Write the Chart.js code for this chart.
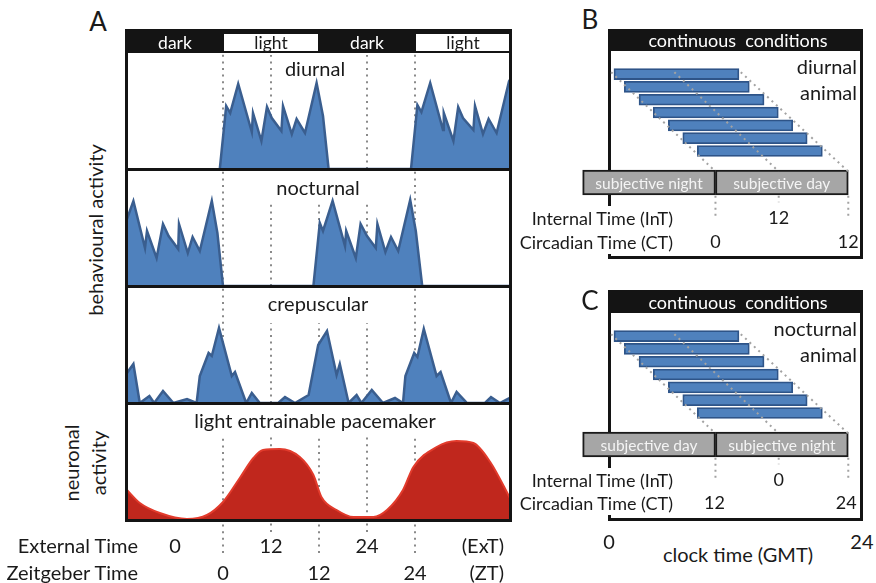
<!DOCTYPE html>
<html>
<head>
<meta charset="utf-8">
<title>Behavioural and neuronal activity</title>
<script src="https://cdn.jsdelivr.net/npm/chart.js@4.4.1/dist/chart.umd.min.js"></script>
<style>
  body { margin: 0; background: #fff; font-family: Lato, 'Open Sans', sans-serif; color: #1a1a1a; }
  #fig { position: relative; width: 876px; height: 583px; overflow: hidden; }
  canvas { position: absolute; z-index: 1; }
  .frame { position: absolute; box-sizing: border-box; border: 3px solid #141414; }
  .top { z-index: 2; }
  .low { z-index: 0; }
  .blk { position: absolute; background: #141414; z-index: 2; }
  .txt { position: absolute; white-space: pre; z-index: 3; line-height: 1.2; text-align: center; }
</style>
</head>
<body>
<div id="fig">
  <!-- panel A frame -->
  <div class="frame top" style="left:125px;top:29px;width:387px;height:493px"></div>
  <div class="blk" style="left:125px;top:29px;width:387px;height:24px"></div>
  <div class="blk" style="left:125px;top:168px;width:387px;height:3px"></div>
  <div class="blk" style="left:125px;top:285px;width:387px;height:3px"></div>
  <div class="blk" style="left:125px;top:402px;width:387px;height:3px"></div>
  <canvas id="diurnal" width="384" height="116" style="left:127px;top:53px"></canvas>
  <canvas id="nocturnal" width="384" height="115" style="left:127px;top:171px"></canvas>
  <canvas id="crepuscular" width="384" height="115" style="left:127px;top:288px"></canvas>
  <canvas id="pacemaker" width="384" height="155" style="left:127px;top:405px"></canvas>

  <!-- panels B and C -->
  <div class="frame low" style="left:608px;top:29px;width:255px;height:230px"></div>
  <div class="blk" style="left:608px;top:29px;width:255px;height:22px"></div>
  <canvas id="freeB" width="306" height="207" style="left:570px;top:51px"></canvas>
  <div class="frame low" style="left:608px;top:290px;width:255px;height:231px"></div>
  <div class="blk" style="left:608px;top:290px;width:255px;height:23px"></div>
  <canvas id="freeC" width="306" height="207" style="left:570px;top:313px"></canvas>
</div>
<script>
// ---------- Panel A: two days, hour 0-48 (lights on 12-24 and 36-48)
const phaseNames = ['dark', 'light', 'dark', 'light'];
const phaseEdges = [0, 12, 24, 36, 48];
const guideHours = [12, 18, 24, 30, 36];

const diurnalHours = [11.6, 12.4, 12.9, 13.9, 15.6, 15.75, 16.8, 17.5, 18.1, 19.3, 19.5, 20.6, 21.2, 22.25, 23.7, 24.5, 25.2,
  35.5, 36.3, 36.8, 37.9, 39.5, 39.6, 40.8, 41.4, 42.0, 43.3, 43.5, 44.5, 45.2, 46.2, 47.7, 48];
const diurnalActivity = [0, 63, 56, 85, 37, 56, 28, 62, 51, 38, 63, 35, 50, 36, 86, 53, 0,
  0, 64, 57, 86, 39, 56, 28, 62, 51, 39, 63, 35, 50, 36, 86, 80];

const nocturnalHours = [0, 0.8, 2.25, 2.5, 3.7, 4.5, 5.2, 6.4, 6.5, 7.6, 8.2, 9.1, 10.6, 11.3, 12.0,
  23.3, 24.1, 24.5, 25.7, 27.25, 27.4, 28.6, 29.2, 30.0, 31.1, 31.3, 32.3, 33.0, 33.9, 35.4, 36.1, 36.9, 48];
const nocturnalActivity = [67, 85, 38, 55, 28, 62, 50, 37, 62, 33, 49, 35, 85, 53, 0,
  0, 63, 55, 85, 40, 55, 28, 62, 50, 38, 62, 34, 49, 35, 86, 55, 0, 0];

const crepuscularHours = [0, 0.8, 1.6, 2.8, 3.4, 4.5, 5.8, 7.5, 8.7, 9.1, 10.2, 10.6, 11.5, 13.1, 13.5, 14.9, 15.6, 16.6,
  18.9, 19.75, 21.0, 22.7, 23.9, 25.0, 26.2, 26.6, 27.7, 28.7, 29.3, 30.6, 32.0, 33.5, 34.5, 34.8, 35.9, 36.3, 37.1,
  38.7, 39.2, 40.5, 41.2, 42.5, 44.75, 45.5, 46.6, 47.8];
const crepuscularActivity = [30, 39, 0, 7, 0, 12, 0, 4, 0, 27, 50, 47, 75, 27, 31, 0, 10, 0,
  0, 6, 0, 8, 58, 72, 28, 39, 0, 8, 0, 13, 0, 5, 0, 27, 50, 46, 74,
  27, 31, 0, 11, 0, 0, 6, 0, 5];

const pacemakerHours = [0, 1.6, 4.1, 7.5, 10, 12, 14.1, 15.8, 17, 19.1, 21.6, 23.3, 24.3, 26.2, 28.3, 30.8, 32.5,
  34.5, 35.8, 38.7, 41.2, 43.3, 45.4, 48];
const pacemakerActivity = [30, 17, 7, 1, 5, 18, 42, 62, 70, 71, 63, 45, 23, 10, 3, 3, 10,
  30, 53, 73, 79, 77, 58, 20];

// time scales under panel A (in panel hours)
const extLabels = ['0', '12', '24'];
const extHours = [6, 18, 30];
const ztLabels = ['0', '12', '24'];
const ztHours = [12, 24, 36];

// ---------- Panels B and C: free-running activity bouts (clock hours, rows = days)
const boutRows = [1, 2, 3, 4, 5, 6, 7];
const boutOnset = [0.47, 1.45, 2.85, 4.2, 5.63, 7.0, 8.38];
const boutOffset = [12.33, 13.31, 14.71, 16.06, 17.43, 18.8, 20.24];
const phaseBoxRow = 9.46;
const phaseBoxHours = [-2.5, 10.1, 22.7];
const guideFromHour = [0.2, 6.2, 12.5];
const guideToHour = [10.1, 16.1, 22.7];
const guideTickEnd = [12.3, 11.0, 12.3];
const guideRows = [0.85, 8.6, 10.5];

const bBoxText = ['subjective night', 'subjective day'];
const cBoxText = ['subjective day', 'subjective night'];
const bIntLabels = ['12'], bIntHours = [16.1];
const bCtLabels = ['0', '12'], bCtHours = [10.1, 22.7];
const cIntLabels = ['0'], cIntHours = [16.1];
const cCtLabels = ['12', '24'], cCtHours = [10.0, 22.5];
const clockLabels = ['0', '24'], clockHours = [0, 24];

const blue = '#4F81BD', blueLine = '#3A5E8F';
const fig = document.getElementById('fig');

function addText(str, x, y, size, o = {}) {
  const el = document.createElement('div');
  el.className = 'txt';
  el.textContent = str;
  el.style.left = x + 'px';
  el.style.top = y + 'px';
  el.style.fontSize = size + 'px';
  const dx = o.align === 'right' ? '-100%' : o.align === 'left' ? '0' : '-50%';
  el.style.transform = `translate(${dx}, -50%)` + (o.rotate ? ` rotate(${o.rotate}deg)` : '');
  if (o.color) el.style.color = o.color;
  if (o.bg) el.style.background = o.bg;
  if (o.lh) el.style.lineHeight = o.lh;
  fig.appendChild(el);
  return el;
}

const baseOptions = (xMin, xMax, yMin, yMax, extra = {}) => Object.assign({
  responsive: false,
  animation: false,
  events: [],
  layout: { padding: 0 },
  plugins: { legend: { display: false }, tooltip: { enabled: false } },
  scales: {
    x: { type: 'linear', min: xMin, max: xMax, display: false },
    y: { type: 'linear', min: yMin, max: yMax, display: false }
  }
}, extra);

function activityChart(id, hours, values, look) {
  const datasets = [{
    data: hours.map((h, i) => ({ x: h, y: values[i] })),
    fill: 'origin',
    backgroundColor: look.fill,
    borderColor: look.line,
    borderWidth: look.width,
    pointRadius: 0,
    tension: look.smooth ? 0.4 : 0,
    cubicInterpolationMode: look.smooth ? 'monotone' : 'default'
  }];
  guideHours.forEach((h, i) => {
    if (look.guideTop[i] == null) return;
    datasets.push({
      data: [{ x: h, y: look.guideBottom[i] }, { x: h, y: look.guideTop[i] }],
      borderColor: '#8a8a8a', borderWidth: 2, borderDash: [2, 4.6],
      pointRadius: 0, fill: false
    });
  });
  return new Chart(document.getElementById(id), {
    type: 'line',
    data: { datasets },
    options: baseOptions(0, 48, look.min, look.max)
  });
}

const chD = activityChart('diurnal', diurnalHours, diurnalActivity, {
  fill: blue, line: blueLine, width: 2.5, min: 0, max: 116,
  guideTop: [116, 114, null, 114, 116], guideBottom: [0, 0, 0, 0, 0]
});
activityChart('nocturnal', nocturnalHours, nocturnalActivity, {
  fill: blue, line: blueLine, width: 2.5, min: 0, max: 115,
  guideTop: [115, 83, 83, 83, 115], guideBottom: [0, 0, 0, 0, 0]
});
activityChart('crepuscular', crepuscularHours, crepuscularActivity, {
  fill: blue, line: blueLine, width: 2.5, min: 0, max: 115,
  guideTop: [115, 80, 80, 80, 115], guideBottom: [0, 0, 0, 0, 0]
});
const chP = activityChart('pacemaker', pacemakerHours, pacemakerActivity, {
  fill: '#C0271D', line: '#E23B2C', width: 2, min: -40, max: 115, smooth: true,
  guideTop: [83, 83, 83, 83, 83], guideBottom: [-33, -12, -33, -12, -33]
});

// light/dark header, placed with the panel's own hour scale
const hx = h => 127 + chD.scales.x.getPixelForValue(h);
phaseNames.forEach((name, i) => {
  const x0 = hx(phaseEdges[i]), x1 = hx(phaseEdges[i + 1]);
  if (name === 'light') {
    const box = document.createElement('div');
    box.style.cssText = `position:absolute;z-index:3;background:#fff;left:${x0 + 1}px;top:34px;width:${Math.min(x1, 510) - x0 - 2}px;height:17px`;
    fig.appendChild(box);
  }
  addText(name, (x0 + x1) / 2, 42, 17.5, { color: name === 'light' ? '#1a1a1a' : '#fff' }).style.zIndex = 4;
});

addText('A', 98, 22, 26);
addText('behavioural activity', 95, 230, 20, { rotate: -90 });
addText('neuronal\nactivity', 85, 463, 20, { rotate: -90, lh: '27px' });
addText('diurnal', 315, 68, 20);
addText('nocturnal', 318, 187, 20);
addText('crepuscular', 318, 303, 20);
addText('light entrainable pacemaker', 315, 420, 20);

const px = h => 127 + chP.scales.x.getPixelForValue(h);
addText('External Time', 138, 545, 20, { align: 'right' });
addText('Zeitgeber Time', 138, 572, 20, { align: 'right' });
extLabels.forEach((t, i) => addText(t, px(extHours[i]), 545, 20));
ztLabels.forEach((t, i) => addText(t, px(ztHours[i]), 572, 20));
addText('(ExT)', 504, 545, 20, { align: 'right' });
addText('(ZT)', 504, 572, 20, { align: 'right' });

// ---------- free-running panels
function freeRunChart(id) {
  const datasets = [];
  guideFromHour.forEach((h, i) => {
    datasets.push({
      type: 'line', indexAxis: 'x', order: 0,
      data: [{ x: h, y: guideRows[0] }, { x: guideToHour[i], y: guideRows[1] }],
      borderColor: '#a3a3a3', borderWidth: 2, borderDash: [2, 4], pointRadius: 0, fill: false
    });
    datasets.push({
      type: 'line', indexAxis: 'x', order: 0,
      data: [{ x: guideToHour[i], y: guideRows[2] }, { x: guideToHour[i], y: guideTickEnd[i] }],
      borderColor: '#a3a3a3', borderWidth: 2, borderDash: [2, 4], pointRadius: 0, fill: false
    });
  });
  datasets.push({
    order: 1,
    data: boutRows.map((r, i) => ({ y: r, x: [boutOnset[i], boutOffset[i]] })),
    backgroundColor: blue, borderColor: '#2E5488', borderWidth: 1.8, borderSkipped: false,
    barThickness: 11, grouped: false
  });
  datasets.push({
    order: 2,
    data: [0, 1].map(i => ({ y: phaseBoxRow, x: [phaseBoxHours[i], phaseBoxHours[i + 1]] })),
    backgroundColor: '#A6A6A6', borderColor: '#1a1a1a', borderWidth: 2, borderSkipped: false,
    barThickness: 25, grouped: false
  });
  const opts = baseOptions(-3.7, 25.33, 0.208, 14.34, { indexAxis: 'y' });
  opts.scales.y.reverse = true;
  return new Chart(document.getElementById(id), { type: 'bar', data: { datasets }, options: opts });
}

function decorate(chart, top, boxText, who, intLabels, intHours, ctLabels, ctHours, letter, intY, ctY) {
  const x = h => 570 + chart.scales.x.getPixelForValue(h);
  const y = r => top + chart.scales.y.getPixelForValue(r);
  addText(letter, 590, top - 12 - (letter === 'B' ? 19 : 0), 26);
  addText('continuous  conditions', 738, top - 10, 18, { color: '#fff' }).style.zIndex = 4;
  addText(who, 857, top + 15, 20, { align: 'right' });
  addText('animal', 857, top + 41, 20, { align: 'right' });
  boxText.forEach((t, i) => addText(t, (x(phaseBoxHours[i]) + x(phaseBoxHours[i + 1])) / 2, y(phaseBoxRow), 15.5, { color: '#f4f4f4' }));
  addText('Internal Time (InT)', 673, intY, 18, { align: 'right', bg: '#fff', lh: '24px' });
  addText('Circadian Time (CT)', 673, ctY, 18, { align: 'right', bg: '#fff', lh: '24px' });
  intLabels.forEach((t, i) => addText(t, x(intHours[i]), intY, 18));
  ctLabels.forEach((t, i) => addText(t, x(ctHours[i]), ctY, 18));
  return x;
}

const chB = freeRunChart('freeB');
decorate(chB, 51, bBoxText, 'diurnal', bIntLabels, bIntHours, bCtLabels, bCtHours, 'B', 218, 242);
const chC = freeRunChart('freeC');
const cx = decorate(chC, 313, cBoxText, 'nocturnal', cIntLabels, cIntHours, cCtLabels, cCtHours, 'C', 480, 503);
clockLabels.forEach((t, i) => addText(t, cx(clockHours[i]), 541, 20));
addText('clock time (GMT)', 738, 554, 20);
</script>
</body>
</html>
